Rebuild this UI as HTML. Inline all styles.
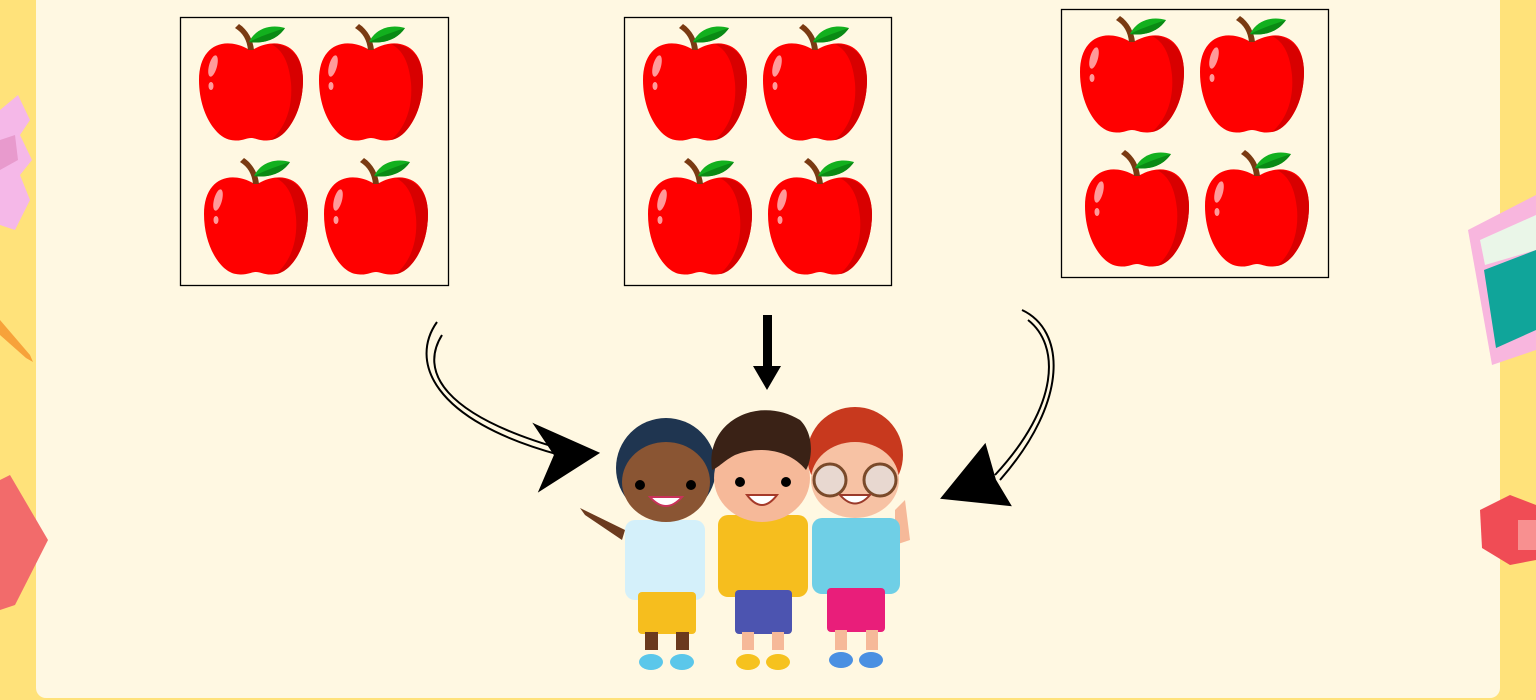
<!DOCTYPE html>
<html><head><meta charset="utf-8"><style>
html,body{margin:0;padding:0;width:1536px;height:700px;overflow:hidden;background:#FFE27A;font-family:"Liberation Sans",sans-serif;}
#panel{position:absolute;left:36px;top:-10px;width:1464px;height:708px;background:#FFF8E2;border-radius:10px;}
svg{position:absolute;left:0;top:0;}
</style></head><body>
<div id="panel"></div>
<svg width="1536" height="700" viewBox="0 0 1536 700">
<defs>
<symbol id="apple" viewBox="-60 -70 120 130" overflow="visible">
  <path d="M-5,-40 C-30,-52 -52,-40 -52,-8 C-52,25 -35,50 -20,52 C-10,54 -5,50 0,50 C5,50 10,54 20,52 C35,50 52,25 52,-8 C52,-40 30,-52 5,-40 C2,-38 -2,-38 -5,-40 Z" fill="#FF0000"/>
  <path d="M20,-44 C40,-44 52,-30 52,-8 C52,25 35,50 20,52 C34,40 42,20 40,-5 C38,-25 32,-38 20,-44Z" fill="#D80000"/>
  <ellipse cx="-38" cy="-22" rx="4" ry="11" fill="#FF9A9A" transform="rotate(15 -38 -22)"/>
  <ellipse cx="-40" cy="-2" rx="2.5" ry="4" fill="#FF9A9A"/>
  <path d="M-3,-38 C-4,-48 -8,-55 -16,-60 L-12,-64 C-3,-58 2,-48 3,-38Z" fill="#7A3A12"/>
  <path d="M-2,-46 C5,-60 20,-64 34,-60 C26,-48 12,-44 -2,-46Z" fill="#12B01E"/>
  <path d="M-2,-46 C10,-52 22,-56 34,-60 C26,-48 12,-44 -2,-46Z" fill="#0A8A14"/>
</symbol>
</defs>

<!-- left deco -->
<g>
  <path d="M0,110 L18,95 L30,120 L20,135 L32,160 L20,175 L30,200 L15,230 L0,225Z" fill="#F5B8E8"/>
  <path d="M0,140 L15,135 L18,160 L0,170Z" fill="#E89ACD"/>
  <path d="M0,320 L30,355 L33,362 L26,358 L0,335Z" fill="#F7A23A"/>
  <path d="M0,480 L10,475 L48,540 L15,605 L0,610Z" fill="#F26B6B"/>
</g>
<!-- right deco -->
<g>
  <path d="M1468,230 L1536,195 L1536,350 L1492,365Z" fill="#F8B6DE"/>
  <path d="M1480,240 L1536,215 L1536,250 L1485,265Z" fill="#EAF6E8"/>
  <path d="M1484,270 L1536,250 L1536,330 L1496,348Z" fill="#10A59A"/>
  <path d="M1480,510 L1510,495 L1536,505 L1536,560 L1510,565 L1482,548Z" fill="#F04C55"/>
  <rect x="1518" y="520" width="18" height="30" fill="#F89090"/>
</g>

<!-- boxes -->
<g>
  <rect x="180.5" y="17.5" width="268" height="268" fill="none" stroke="#000" stroke-width="1.3"/>
  <use href="#apple" x="191" y="18" width="120" height="130"/>
  <use href="#apple" x="311" y="18" width="120" height="130"/>
  <use href="#apple" x="196" y="152" width="120" height="130"/>
  <use href="#apple" x="316" y="152" width="120" height="130"/>
</g>
<g>
  <rect x="624.5" y="17.5" width="267" height="268" fill="none" stroke="#000" stroke-width="1.3"/>
  <use href="#apple" x="635" y="18" width="120" height="130"/>
  <use href="#apple" x="755" y="18" width="120" height="130"/>
  <use href="#apple" x="640" y="152" width="120" height="130"/>
  <use href="#apple" x="760" y="152" width="120" height="130"/>
</g>
<g>
  <rect x="1061.5" y="9.5" width="267" height="268" fill="none" stroke="#000" stroke-width="1.3"/>
  <use href="#apple" x="1072" y="10" width="120" height="130"/>
  <use href="#apple" x="1192" y="10" width="120" height="130"/>
  <use href="#apple" x="1077" y="144" width="120" height="130"/>
  <use href="#apple" x="1197" y="144" width="120" height="130"/>
</g>

<!-- arrows -->
<g fill="none" stroke="#000" stroke-width="2">
  <path d="M437,322 C410,360 430,420 560,455"/>
  <path d="M442,335 C420,370 440,415 565,450"/>
  <path d="M535,425 L598,453 L540,490 L555,455Z" fill="#000" stroke-width="2"/>
</g>
<g>
  <rect x="763" y="315" width="9" height="55" fill="#000"/>
  <path d="M753,366 L781,366 L767,390Z" fill="#000"/>
</g>
<g fill="none" stroke="#000" stroke-width="2">
  <path d="M1022,310 C1065,330 1070,400 1000,480"/>
  <path d="M1028,320 C1060,345 1060,405 995,475"/>
  <path d="M985,445 L942,498 L1010,505 L995,480Z" fill="#000" stroke-width="2"/>
</g>

<!-- kids -->
<g>
  <path d="M580,508 L625,530 L622,540 L585,515Z" fill="#6B3A1E"/>
  <rect x="625" y="520" width="80" height="80" rx="10" fill="#D4F0FA"/>
  <rect x="638" y="592" width="58" height="42" rx="4" fill="#F6BE1E"/>
  <rect x="645" y="632" width="13" height="18" fill="#6B3A1E"/><rect x="676" y="632" width="13" height="18" fill="#6B3A1E"/>
  <ellipse cx="651" cy="662" rx="12" ry="8" fill="#5BC7EA"/><ellipse cx="682" cy="662" rx="12" ry="8" fill="#5BC7EA"/>
  <circle cx="666" cy="468" r="50" fill="#1F3550"/>
  <ellipse cx="666" cy="482" rx="44" ry="40" fill="#8A5533"/>
  <circle cx="640" cy="485" r="5" fill="#000"/><circle cx="691" cy="485" r="5" fill="#000"/>
  <path d="M650,497 Q666,515 682,497Z" fill="#fff" stroke="#C8325A" stroke-width="2"/>
</g>
<g>
  <path d="M895,510 L905,500 L910,540 L895,545Z" fill="#F6B999"/>
  <rect x="812" y="518" width="88" height="76" rx="10" fill="#6FCFE6"/>
  <rect x="827" y="588" width="58" height="44" rx="4" fill="#E91E7A"/>
  <rect x="835" y="630" width="12" height="20" fill="#F6B999"/><rect x="866" y="630" width="12" height="20" fill="#F6B999"/>
  <ellipse cx="841" cy="660" rx="12" ry="8" fill="#4A90E2"/><ellipse cx="871" cy="660" rx="12" ry="8" fill="#4A90E2"/>
  <circle cx="855" cy="455" r="48" fill="#C8391E"/>
  <ellipse cx="855" cy="480" rx="44" ry="38" fill="#F7C2A4"/>
  <circle cx="830" cy="480" r="16" fill="#E8D8D0" stroke="#7A4A2A" stroke-width="3"/>
  <circle cx="880" cy="480" r="16" fill="#E8D8D0" stroke="#7A4A2A" stroke-width="3"/>
  <path d="M840,495 Q855,512 870,495Z" fill="#fff" stroke="#9A3A2A" stroke-width="2"/>
</g>
<g>
  <rect x="718" y="515" width="90" height="82" rx="10" fill="#F6BE1E"/>
  <rect x="735" y="590" width="57" height="44" rx="4" fill="#4C54B0"/>
  <rect x="742" y="632" width="12" height="18" fill="#F6B999"/><rect x="772" y="632" width="12" height="18" fill="#F6B999"/>
  <ellipse cx="748" cy="662" rx="12" ry="8" fill="#F6C21E"/><ellipse cx="778" cy="662" rx="12" ry="8" fill="#F6C21E"/>
  <ellipse cx="762" cy="478" rx="48" ry="44" fill="#F6B999"/>
  <path d="M712,470 C705,420 760,395 800,420 C815,435 812,460 806,470 C790,450 760,445 735,455 C725,460 718,468 712,470Z" fill="#3A2216"/>
  <circle cx="740" cy="482" r="5" fill="#000"/><circle cx="786" cy="482" r="5" fill="#000"/>
  <path d="M747,495 Q762,515 777,495Z" fill="#fff" stroke="#A53A2A" stroke-width="2"/>
</g>
</svg>
</body></html>
